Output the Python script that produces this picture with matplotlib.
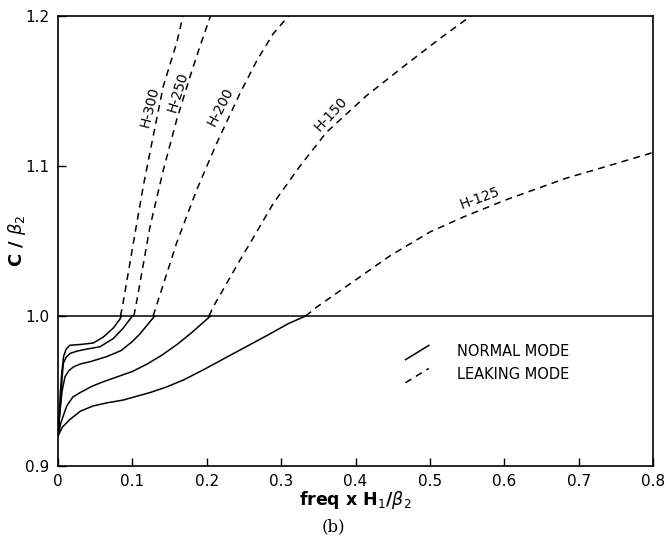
import matplotlib
matplotlib.use("Agg")
import matplotlib.pyplot as plt
from matplotlib.lines import Line2D
from matplotlib.legend_handler import HandlerLine2D

# normal mode branches (solid), C/beta2 < 1
h300_x = [0, 0.002, 0.003, 0.005, 0.0075, 0.011, 0.016, 0.03, 0.0475, 0.061, 0.0744, 0.0834, 0.085]
h300_y = [0.92, 0.935, 0.948, 0.962, 0.973, 0.978, 0.9805, 0.981, 0.982, 0.986, 0.992, 0.998, 1.0]
h250_x = [0, 0.002, 0.004, 0.0055, 0.0072, 0.011, 0.016, 0.025, 0.034, 0.0565, 0.0744, 0.0878, 0.1]
h250_y = [0.92, 0.934, 0.946, 0.959, 0.9685, 0.9725, 0.975, 0.9765, 0.9775, 0.9795, 0.985, 0.992, 1.0]
h200_x = [0, 0.0027, 0.0055, 0.0094, 0.0145, 0.0206, 0.03, 0.043, 0.0654, 0.085, 0.1, 0.11, 0.12, 0.13]
h200_y = [0.92, 0.937, 0.950, 0.9595, 0.9635, 0.966, 0.968, 0.9695, 0.9729, 0.977, 0.983, 0.988, 0.994, 1.0]
h150_x = [0, 0.004, 0.0117, 0.02, 0.03, 0.045, 0.06, 0.08, 0.1, 0.12, 0.14, 0.16, 0.18, 0.205]
h150_y = [0.92, 0.929, 0.940, 0.946, 0.949, 0.953, 0.956, 0.9595, 0.963, 0.968, 0.974, 0.981, 0.989, 1.0]
h125_x = [0, 0.006, 0.016, 0.03, 0.047, 0.065, 0.088, 0.106, 0.124, 0.145, 0.1685, 0.195, 0.236, 0.281, 0.31, 0.333]
h125_y = [0.92, 0.926, 0.931, 0.9365, 0.940, 0.942, 0.944, 0.9465, 0.949, 0.9525, 0.9573, 0.964, 0.975, 0.987, 0.995, 1.0]

# leaking mode branches (dashed), C/beta2 > 1
l300_x = [0.084, 0.087, 0.1013, 0.1147, 0.128, 0.1416, 0.1595, 0.168]
l300_y = [1.0, 1.0073, 1.0487, 1.0867, 1.12, 1.1533, 1.182, 1.2]
l250_x = [0.102, 0.1049, 0.1237, 0.1416, 0.1595, 0.1775, 0.191, 0.205]
l250_y = [1.0, 1.0073, 1.0596, 1.0973, 1.1307, 1.1596, 1.18, 1.2]
l200_x = [0.128, 0.1326, 0.1595, 0.1864, 0.2133, 0.2447, 0.267, 0.289, 0.31]
l200_y = [1.0, 1.0073, 1.0487, 1.084, 1.1151, 1.1485, 1.170, 1.188, 1.2]
l150_x = [0.203, 0.2088, 0.2447, 0.26, 0.2895, 0.3254, 0.361, 0.415, 0.4688, 0.5136, 0.555]
l150_y = [1.0, 1.0062, 1.0373, 1.050, 1.0751, 1.100, 1.1225, 1.147, 1.168, 1.185, 1.2]
l125_x = [0.333, 0.348, 0.4, 0.446, 0.5, 0.545, 0.6, 0.639, 0.684, 0.729, 0.8]
l125_y = [1.0, 1.006, 1.024, 1.040, 1.056, 1.066, 1.077, 1.084, 1.092, 1.0985, 1.109]

curve_labels = ["H-300", "H-250", "H-200", "H-150", "H-125"]
label_x = [0.1237, 0.1618, 0.2178, 0.367, 0.5674]
label_y = [1.1395, 1.1495, 1.1395, 1.1345, 1.0785]
label_rot = [76, 73, 63, 47, 20]

xticks = [0, 0.1, 0.2, 0.3, 0.4, 0.5, 0.6, 0.7, 0.8]
xtick_labels = ["0", "0.1", "0.2", "0.3", "0.4", "0.5", "0.6", "0.7", "0.8"]
yticks = [0.9, 1.0, 1.1, 1.2]
ytick_labels = ["0.9", "1.0", "1.1", "1.2"]


class SlashHandler(HandlerLine2D):
    # legend key drawn as a short diagonal stroke, like the original
    def create_artists(self, legend, orig_handle, xdescent, ydescent,
                       width, height, fontsize, trans):
        line = Line2D([-xdescent, -xdescent + width],
                      [-ydescent - 0.35 * height, -ydescent + 1.05 * height])
        self.update_prop(line, orig_handle, legend)
        line.set_transform(trans)
        return [line]


dash = (4.5, 3.5)
lw = 1.1

fig = plt.figure(figsize=(6.66, 5.45), dpi=100)
ax = fig.add_axes([0.0871, 0.145, 0.8934, 0.8256])

for xs, ys in [(h300_x, h300_y), (h250_x, h250_y), (h200_x, h200_y),
               (h150_x, h150_y), (h125_x, h125_y)]:
    ax.plot(xs, ys, color="black", lw=lw)

for xs, ys in [(l300_x, l300_y), (l250_x, l250_y), (l200_x, l200_y),
               (l150_x, l150_y), (l125_x, l125_y)]:
    ax.plot(xs, ys, color="black", lw=lw, dashes=dash)

for txt, tx, ty, rot in zip(curve_labels, label_x, label_y, label_rot):
    ax.text(tx, ty, txt, rotation=rot, ha="center", va="center",
            fontsize=10, rotation_mode="anchor")

ax.axhline(1.0, color="black", lw=1.1)

ax.set_xlim(0, 0.8)
ax.set_ylim(0.9, 1.2)
ax.set_xticks(xticks)
ax.set_xticklabels(xtick_labels)
ax.set_yticks(yticks)
ax.set_yticklabels(ytick_labels)
ax.tick_params(direction="in", length=6, width=1, labelsize=11, pad=6)
for s in ax.spines.values():
    s.set_linewidth(1.2)

ax.set_ylabel(r"C / $\beta_2$", fontsize=13, fontweight="bold")
ax.yaxis.set_label_coords(-0.05, 0.5)
ax.set_xlabel(r"freq x H$_1$/$\beta_2$", fontsize=12.5, fontweight="bold", labelpad=0)
fig.text(0.5, 0.033, "(b)", fontsize=12, family="DejaVu Serif", ha="center", va="center")

normal = Line2D([], [], color="black", lw=lw)
leaking = Line2D([], [], color="black", lw=lw, dashes=dash)
ax.legend([normal, leaking], ["NORMAL MODE", "LEAKING MODE"],
          handler_map={normal: SlashHandler(), leaking: SlashHandler()},
          loc="upper left", bbox_to_anchor=(0.562, 0.30), frameon=False,
          fontsize=10.5, handlelength=1.6, handletextpad=1.9, labelspacing=0.55)

fig.savefig("out.png", dpi=100)
